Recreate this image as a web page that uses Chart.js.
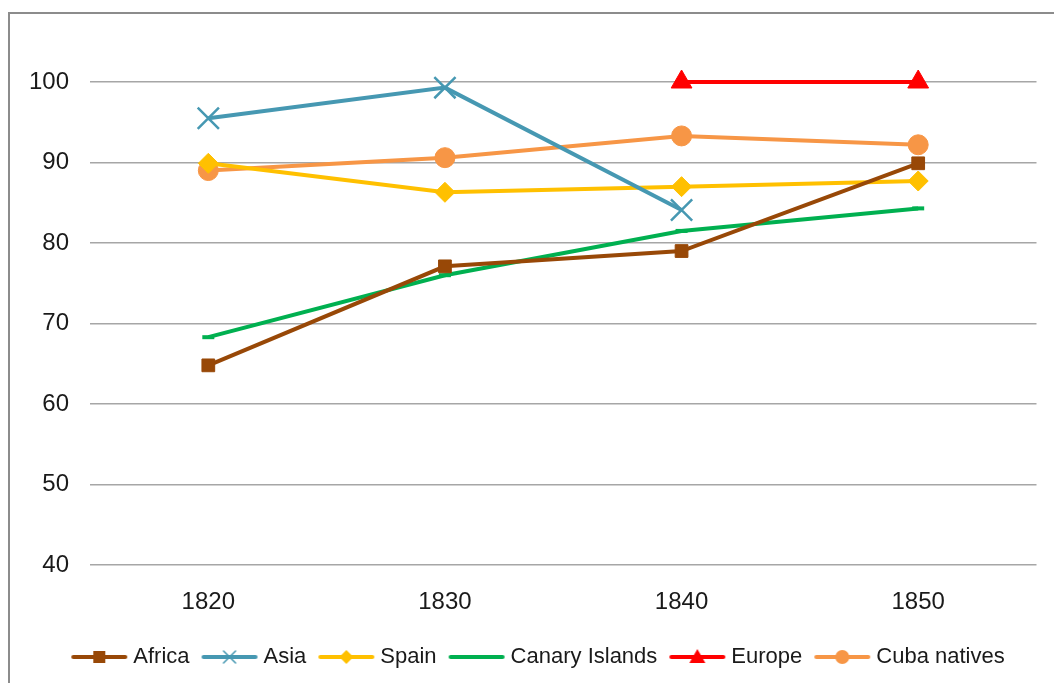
<!DOCTYPE html>
<html>
<head>
<meta charset="utf-8">
<script src="https://cdn.jsdelivr.net/npm/chart.js@4.4.0/dist/chart.umd.min.js"></script>
<style>
  html, body { margin: 0; padding: 0; background: #fff; overflow: hidden; }
  #frame {
    position: absolute; left: 8px; top: 12px; width: 1100px; height: 700px;
    border-left: 2px solid #8c8c8c; border-top: 2px solid #8c8c8c;
  }
  #wrap { position: absolute; left: 0; top: 0; width: 1054px; height: 683px; }
</style>
</head>
<body>
<div id="frame"></div>
<div id="wrap"><canvas id="lineChart" width="1054" height="683"></canvas></div>
<script>
// Годы (категории)
const years = ['1820', '1830', '1840', '1850'];

// Значения по сериям
const africa = [64.8, 77.1, 79.0, 89.9];
const asia = [95.5, 99.3, 84.1, null];
const spain = [89.9, 86.3, 87.0, 87.7];
const canary = [68.3, 76.0, 81.5, 84.3];
const europe = [null, null, 100, 100];
const cubaNatives = [89.0, 90.6, 93.3, 92.2];

// Деления оси Y
const yTicks = [40, 50, 60, 70, 80, 90, 100];

const FONT = "'Liberation Sans', Arial, sans-serif";

// Картинка для легенды: линия + маркер посередине
function legendIcon(color, marker) {
    const c = document.createElement('canvas');
    c.width = 58; c.height = 22;
    const ctx = c.getContext('2d');
    ctx.strokeStyle = color;
    ctx.fillStyle = color;
    ctx.lineWidth = 4;
    ctx.lineCap = 'round';
    ctx.beginPath();
    ctx.moveTo(3, 11); ctx.lineTo(55, 11);
    ctx.stroke();
    const x = 29, y = 11;
    ctx.beginPath();
    if (marker === 'rect') {
        ctx.fillRect(x - 6, y - 6, 12, 12);
    } else if (marker === 'cross') {
        ctx.lineWidth = 1.5;
        ctx.moveTo(x - 6, y - 6); ctx.lineTo(x + 6, y + 6);
        ctx.moveTo(x + 6, y - 6); ctx.lineTo(x - 6, y + 6);
        ctx.stroke();
    } else if (marker === 'diamond') {
        ctx.moveTo(x, y - 7); ctx.lineTo(x + 7, y); ctx.lineTo(x, y + 7); ctx.lineTo(x - 7, y);
        ctx.closePath(); ctx.fill();
    } else if (marker === 'triangle') {
        ctx.moveTo(x, y - 8); ctx.lineTo(x + 8, y + 6); ctx.lineTo(x - 8, y + 6);
        ctx.closePath(); ctx.fill();
    } else if (marker === 'circle') {
        ctx.arc(x, y, 7, 0, Math.PI * 2); ctx.fill();
    }
    return c;
}

const colors = {
    africa: '#984807',
    asia: '#4698b2',
    spain: '#ffc000',
    canary: '#00b050',
    europe: '#ff0000',
    cuba: '#f79646'
};

const icons = [
    legendIcon(colors.africa, 'rect'),
    legendIcon(colors.asia, 'cross'),
    legendIcon(colors.spain, 'diamond'),
    legendIcon(colors.canary, 'none'),
    legendIcon(colors.europe, 'triangle'),
    legendIcon(colors.cuba, 'circle')
];

function series(label, data, color, style, radius, extra) {
    return Object.assign({
        label: label,
        data: data,
        borderColor: color,
        backgroundColor: color,
        borderWidth: 4,
        pointStyle: style,
        pointRadius: radius,
        pointHoverRadius: radius,
        pointBackgroundColor: color,
        pointBorderColor: color,
        pointBorderWidth: 1,
        tension: 0,
        clip: false
    }, extra || {});
}

// сдвиг легенды вправо, как в оригинале
const legendShift = {
    id: 'legendShift',
    afterLayout: function(chart) {
        chart.legend.left += 22;
        chart.legend.right += 22;
    }
};

new Chart(document.getElementById('lineChart'), {
    type: 'line',
    plugins: [legendShift],
    data: {
        labels: years,
        datasets: [
            series('Africa', africa, colors.africa, 'rect', 9),
            series('Asia', asia, colors.asia, 'crossRot', 15, { pointBorderWidth: 2.5 }),
            series('Spain', spain, colors.spain, 'rectRot', 10),
            series('Canary Islands', canary, colors.canary, 'line', 6, { pointBorderWidth: 4 }),
            series('Europe', europe, colors.europe, 'triangle', 12),
            series('Cuba natives', cubaNatives, colors.cuba, 'circle', 10)
        ]
    },
    options: {
        responsive: false,
        animation: false,
        layout: { padding: { top: 82, right: 17, bottom: 5, left: 0 } },
        plugins: {
            tooltip: { enabled: false },
            legend: {
                position: 'bottom',
                labels: {
                    usePointStyle: true,
                    pointStyleWidth: 46,
                    boxHeight: 22,
                    padding: 17,
                    color: '#1a1a1a',
                    font: { size: 22, family: FONT },
                    generateLabels: function(chart) {
                        const items = Chart.defaults.plugins.legend.labels.generateLabels(chart);
                        items.forEach(function(item, i) { item.pointStyle = icons[i]; });
                        return items;
                    }
                }
            }
        },
        scales: {
            y: {
                min: 40,
                max: 100,
                afterBuildTicks: function(scale) {
                    scale.ticks = yTicks.map(function(v) { return { value: v }; });
                },
                afterFit: function(scale) { scale.width = 90; },
                grid: { color: '#a6a6a6', lineWidth: 1.5, drawTicks: false },
                border: { display: false },
                ticks: {
                    padding: 21,
                    color: '#1a1a1a',
                    font: { size: 24, family: FONT }
                }
            },
            x: {
                offset: true,
                afterFit: function(scale) { scale.height = 64; },
                grid: { display: false, drawTicks: false, offset: true },
                border: { display: false },
                ticks: {
                    padding: 23,
                    color: '#1a1a1a',
                    font: { size: 24, family: FONT }
                }
            }
        }
    }
});
</script>
</body>
</html>
